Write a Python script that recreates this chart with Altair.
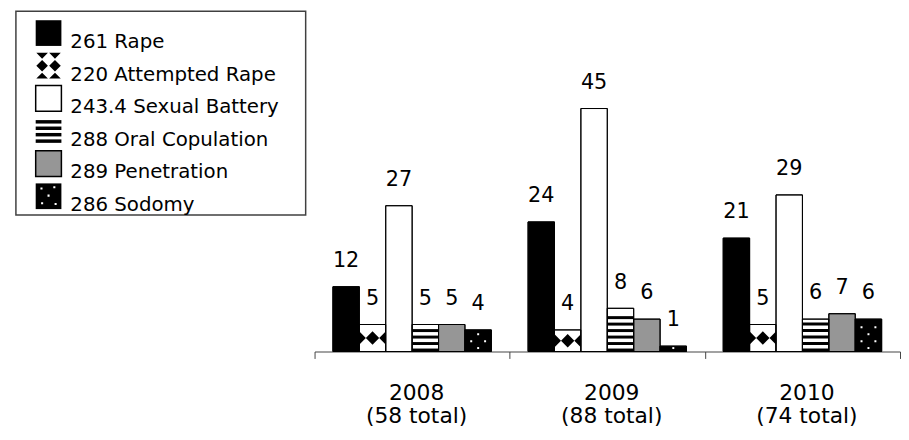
import altair as alt
import pandas as pd

# ---------------- data ----------------
years = ["2008", "2009", "2010"]
totals = [58, 88, 74]
categories = ["261 Rape", "220 Attempted Rape", "243.4 Sexual Battery",
              "288 Oral Copulation", "289 Penetration", "286 Sodomy"]
rape = [12, 24, 21]
attempted = [5, 4, 5]
battery = [27, 45, 29]
oral = [5, 8, 6]
penetration = [5, 6, 7]
sodomy = [4, 1, 6]
fills = ["#000000", "#ffffff", "#ffffff", "#ffffff", "#969696", "#000000"]

series = [rape, attempted, battery, oral, penetration, sodomy]
groups = [f"{y}|({t} total)" for y, t in zip(years, totals)]

rows = []
for cat, vals in zip(categories, series):
    for g, v in zip(groups, vals):
        rows.append({"group": g, "category": cat, "value": v})
df = pd.DataFrame(rows)

# pattern helper tables (derived from the data)
stripe_rows = []
for g, v in zip(groups, oral):
    k = 0
    while k * 1.2 + 0.55 <= v - 0.3:
        stripe_rows.append({"group": g, "category": categories[3],
                            "y0": k * 1.2, "y1": k * 1.2 + 0.55})
        k += 1
stripes = pd.DataFrame(stripe_rows)

diam = pd.DataFrame([{"group": g, "category": categories[1], "mid": v / 2}
                     for g, v in zip(groups, attempted)])

dot_rows = []
for g, v in zip(groups, sodomy):
    k = 0
    while (k + 0.5) * 1.28 <= v - 0.3:
        dot_rows.append({"group": g, "category": categories[5],
                         "yd": (k + 0.5) * 1.28, "kind": "c" if k % 2 == 0 else "s"})
        k += 1
dots = pd.DataFrame(dot_rows)

# custom symbol paths (unit square -1..1)
bar_diamond = ("M0,-0.5L0.5,0L0,0.5L-0.5,0Z "
               "M-1,-0.5L-0.5,0L-1,0.5Z M1,-0.5L0.5,0L1,0.5Z")
d = 0.074
dot_c = f"M{-d},{-d}L{d},{-d}L{d},{d}L{-d},{d}Z"
dot_s = (f"M{-0.52-d},{-d}L{-0.52+d},{-d}L{-0.52+d},{d}L{-0.52-d},{d}Z "
         f"M{0.52-d},{-d}L{0.52+d},{-d}L{0.52+d},{d}L{0.52-d},{d}Z")

# ---------------- main chart ----------------
FONT = "DejaVu Sans"
xenc = alt.X("group:N", sort=groups,
             scale=alt.Scale(domain=groups, paddingInner=0, paddingOuter=0),
             axis=alt.Axis(title=None, labelExpr="split(datum.label, '|')",
                           labelAngle=0, labelFontSize=22, labelFont=FONT,
                           labelColor="black", labelPadding=25, labelLineHeight=23,
                           labelBaseline="top", tickBand="extent", tickExtra=True,
                           tickSize=7, tickColor="#444444", domainColor="#444444",
                           labelOffset=4, grid=False))
xoff = alt.XOffset("category:N",
                   scale=alt.Scale(domain=categories, paddingInner=0, paddingOuter=0.695))
yscale = alt.Scale(domain=[0, 63], nice=False)

bars = alt.Chart(df).mark_bar(stroke="black", strokeWidth=1).encode(
    x=xenc, xOffset=xoff,
    y=alt.Y("value:Q", scale=yscale, axis=None),
    fill=alt.Fill("category:N", scale=alt.Scale(domain=categories, range=fills), legend=None),
)

stripe_layer = alt.Chart(stripes).mark_bar(color="black", strokeWidth=0).encode(
    x=xenc, xOffset=xoff,
    y=alt.Y("y0:Q", scale=yscale, axis=None), y2="y1:Q",
)

diamond_layer = alt.Chart(diam).mark_point(
    shape=bar_diamond, filled=True, size=729, color="black", opacity=1, strokeWidth=0
).encode(x=xenc, xOffset=xoff, y=alt.Y("mid:Q", scale=yscale, axis=None))

dots_c = alt.Chart(dots).transform_filter("datum.kind == 'c'").mark_point(
    shape=dot_c, filled=True, size=729, color="white", opacity=1, strokeWidth=0
).encode(x=xenc, xOffset=xoff, y=alt.Y("yd:Q", scale=yscale, axis=None))

dots_s = alt.Chart(dots).transform_filter("datum.kind == 's'").mark_point(
    shape=dot_s, filled=True, size=729, color="white", opacity=1, strokeWidth=0
).encode(x=xenc, xOffset=xoff, y=alt.Y("yd:Q", scale=yscale, axis=None))

outline = alt.Chart(df).mark_bar(fillOpacity=0, stroke="black", strokeWidth=1).encode(
    x=xenc, xOffset=xoff, y=alt.Y("value:Q", scale=yscale, axis=None),
)

labels = alt.Chart(df).mark_text(
    dy=-20, baseline="alphabetic", align="center", fontSize=21, font=FONT, color="black"
).encode(x=xenc, xOffset=xoff, y=alt.Y("value:Q", scale=yscale, axis=None), text="value:Q")

main = alt.layer(bars, stripe_layer, diamond_layer, dots_c, dots_s, outline, labels).properties(
    width=592, height=344
)

# ---------------- legend panel ----------------
LW, LH = 293, 206
leg = pd.DataFrame({
    "category": categories,
    "i": list(range(len(categories))),
})
leg["x0"] = 20
leg["x1"] = 46
leg["y0"] = 9 + 33 * leg["i"]
leg["y1"] = leg["y0"] + 26
leg["cx"] = 33
leg["cy"] = leg["y0"] + 13
leg["tx"] = 55
leg["ty"] = 37 + 33 * leg["i"]
leg["sw"] = [0, 0, 1.5, 0, 1.5, 0]

lx = alt.Scale(domain=[0, LW], nice=False, zero=False)
ly = alt.Scale(domain=[0, LH], nice=False, zero=False, reverse=True)

sw_rect = alt.Chart(leg).mark_rect(stroke="black").encode(
    x=alt.X("x0:Q", scale=lx, axis=None), x2="x1:Q",
    y=alt.Y("y0:Q", scale=ly, axis=None), y2="y1:Q",
    fill=alt.Fill("category:N", scale=alt.Scale(domain=categories, range=fills), legend=None),
    strokeWidth=alt.StrokeWidth("sw:Q", scale=None),
)

oral_leg = leg[leg["category"] == categories[3]].iloc[0]
leg_stripes = pd.DataFrame({
    "x0": [oral_leg["x0"]] * 4, "x1": [oral_leg["x1"]] * 4,
    "y0": [oral_leg["y0"] + 2 + 6.5 * j for j in range(4)],
})
leg_stripes["y1"] = leg_stripes["y0"] + 3.5
sw_stripes = alt.Chart(leg_stripes).mark_rect(color="black").encode(
    x=alt.X("x0:Q", scale=lx, axis=None), x2="x1:Q",
    y=alt.Y("y0:Q", scale=ly, axis=None), y2="y1:Q",
)

leg_diamond_path = ("M0.05,0L0.5,-0.45L0.95,0L0.5,0.45Z M-0.95,0L-0.5,-0.45L-0.05,0L-0.5,0.45Z "
                    "M0.05,-1L0.95,-1L0.5,-0.55Z M-0.95,-1L-0.05,-1L-0.5,-0.55Z "
                    "M0.05,1L0.95,1L0.5,0.55Z M-0.95,1L-0.05,1L-0.5,0.55Z")
sw_diamond = alt.Chart(leg[leg["category"] == categories[1]]).mark_point(
    shape=leg_diamond_path, filled=True, size=676, color="black", opacity=1, strokeWidth=0
).encode(x=alt.X("cx:Q", scale=lx, axis=None), y=alt.Y("cy:Q", scale=ly, axis=None))

e = 0.08
leg_dot_centers = [(-0.55, -0.6), (0.45, -0.7), (0.0, -0.05), (-0.5, 0.55), (0.55, 0.6)]
leg_dot_path = " ".join(
    f"M{cx-e},{cy-e}L{cx+e},{cy-e}L{cx+e},{cy+e}L{cx-e},{cy+e}Z" for cx, cy in leg_dot_centers
)
sw_dots = alt.Chart(leg[leg["category"] == categories[5]]).mark_point(
    shape=leg_dot_path, filled=True, size=676, color="white", opacity=1, strokeWidth=0
).encode(x=alt.X("cx:Q", scale=lx, axis=None), y=alt.Y("cy:Q", scale=ly, axis=None))

leg_text = alt.Chart(leg).mark_text(
    align="left", baseline="alphabetic", fontSize=20, font=FONT, color="black"
).encode(
    x=alt.X("tx:Q", scale=lx, axis=None), y=alt.Y("ty:Q", scale=ly, axis=None),
    text="category:N",
)

legend_panel = alt.layer(sw_rect, sw_stripes, sw_diamond, sw_dots, leg_text).properties(
    width=LW, height=LH,
    view=alt.ViewBackground(stroke="#404040", strokeWidth=1.5),
)

chart = alt.hconcat(legend_panel, main, spacing=7).properties(
    padding={"left": 7, "top": 0, "right": 0, "bottom": 0}
).configure_view(stroke=None)

chart.save("out.html", embed_options={"renderer": "svg", "actions": False})
